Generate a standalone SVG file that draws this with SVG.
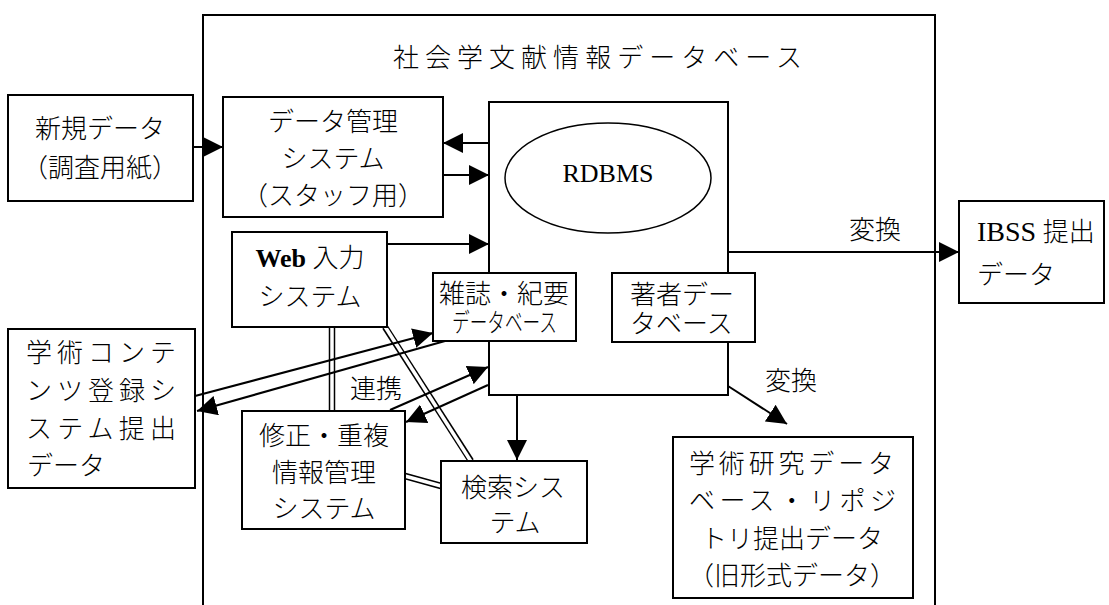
<svg xmlns="http://www.w3.org/2000/svg" width="1109" height="605" viewBox="0 0 1109 605">
<style>
text { font-family: "Liberation Serif", "Noto Sans CJK JP", serif; font-size: 26px; font-weight: 300; fill: #000; }
.c { text-anchor: middle; }
.box { fill: #fff; stroke: #000; stroke-width: 2; }
.ln { stroke: #000; stroke-width: 2; fill: none; }
.dbo { stroke: #000; stroke-width: 6.5; fill: none; }
.dbi { stroke: #fff; stroke-width: 3.5; fill: none; }
.lat { font-family: "Liberation Serif", serif; font-weight: 400; }
</style>
<defs>
<marker id="ah" markerUnits="userSpaceOnUse" markerWidth="20" markerHeight="20" refX="20" refY="10" orient="auto">
<path d="M0,0 L20,10 L0,20 Z" fill="#000"/>
</marker>
</defs>
<rect x="0" y="0" width="1109" height="605" fill="#fff"/>

<g id="database-frame">
<path d="M203,606 V15 H935 V606" class="ln"/>
<text x="393" y="67" font-size="27" textLength="409" lengthAdjust="spacing">社会学文献情報データベース</text>
</g>

<g id="connectors">
<!-- double lines -->
<line x1="332" y1="327" x2="332" y2="411" class="dbo"/>
<line x1="332" y1="325" x2="332" y2="413" class="dbi"/>
<line x1="385" y1="327" x2="471" y2="461" class="dbo"/>
<line x1="384" y1="325" x2="472" y2="463" class="dbi"/>
<line x1="405" y1="476" x2="441" y2="486" class="dbo"/>
<line x1="403" y1="475.5" x2="443" y2="486.5" class="dbi"/>
<!-- arrows -->
<line x1="193" y1="147" x2="223" y2="147" class="ln" marker-end="url(#ah)"/>
<line x1="489" y1="143" x2="443" y2="143" class="ln" marker-end="url(#ah)"/>
<line x1="443" y1="175" x2="489" y2="175" class="ln" marker-end="url(#ah)"/>
<line x1="387" y1="244" x2="489" y2="244" class="ln" marker-end="url(#ah)"/>
<line x1="195" y1="396" x2="433" y2="333" class="ln" marker-end="url(#ah)"/>
<line x1="445" y1="341" x2="197" y2="411" class="ln" marker-end="url(#ah)"/>
<line x1="390" y1="410" x2="488" y2="367" class="ln" marker-end="url(#ah)"/>
<line x1="488" y1="385" x2="406" y2="422" class="ln" marker-end="url(#ah)"/>
<line x1="517" y1="396" x2="517" y2="460" class="ln" marker-end="url(#ah)"/>
<line x1="728" y1="252" x2="959" y2="252" class="ln" marker-end="url(#ah)"/>
<line x1="728" y1="386" x2="787" y2="424" class="ln" marker-end="url(#ah)"/>
<text x="849" y="239">変換</text>
<text x="765" y="390">変換</text>
<text x="350" y="398">連携</text>
</g>

<g id="new-data">
<rect x="8" y="95" width="185" height="106" class="box"/>
<text x="100" y="138" class="c">新規データ</text>
<text x="100" y="177" class="c">（調査用紙）</text>
</g>

<g id="data-management">
<rect x="223" y="97" width="220" height="120" class="box"/>
<text x="333" y="131" class="c">データ管理</text>
<text x="333" y="168" class="c">システム</text>
<text x="333" y="205" class="c">（スタッフ用）</text>
</g>

<g id="rdbms">
<rect x="489" y="102" width="239" height="293" class="box"/>
<ellipse cx="608" cy="178" rx="103" ry="55" fill="#fff" stroke="#000" stroke-width="1.5"/>
<text x="608" y="182" class="c lat" font-size="33">RDBMS</text>
</g>

<g id="web-input">
<rect x="232" y="232" width="155" height="95" class="box"/>
<text x="310" y="267" class="c"><tspan font-family="Liberation Serif" font-weight="700">Web</tspan> 入力</text>
<text x="310" y="306" class="c">システム</text>
</g>

<g id="journal-db">
<rect x="433" y="273" width="143" height="68" class="box"/>
<text x="504" y="303" class="c" font-size="21">雑誌・紀要</text>
<text x="452" y="332" font-size="19" textLength="105" lengthAdjust="spacingAndGlyphs">データベース</text>
</g>

<g id="author-db">
<rect x="612" y="273" width="143" height="69" class="box"/>
<text x="630" y="304" font-size="23">著者デー</text>
<text x="630" y="333" font-size="23">タベース</text>
</g>

<g id="academic-contents">
<rect x="8" y="329" width="187" height="159" class="box"/>
<text x="26" y="362" textLength="150" lengthAdjust="spacing">学術コンテ</text>
<text x="26" y="400" textLength="150" lengthAdjust="spacing">ンツ登録シ</text>
<text x="26" y="438" textLength="150" lengthAdjust="spacing">ステム提出</text>
<text x="27" y="475">データ</text>
</g>

<g id="correction-system">
<rect x="242" y="411" width="163" height="118" class="box"/>
<text x="324" y="445" class="c">修正・重複</text>
<text x="324" y="482" class="c">情報管理</text>
<text x="324" y="518" class="c">システム</text>
</g>

<g id="search-system">
<rect x="441" y="461" width="146" height="82" class="box"/>
<text x="513" y="497" class="c">検索シス</text>
<text x="515" y="532" class="c">テム</text>
</g>

<g id="research-db">
<rect x="673" y="437" width="240" height="161" class="box"/>
<text x="689" y="473" textLength="205" lengthAdjust="spacing">学術研究データ</text>
<text x="689" y="510" textLength="207" lengthAdjust="spacing">ベース・リポジ</text>
<text x="792" y="548" class="c">トリ提出データ</text>
<text x="792" y="585" class="c">（旧形式データ）</text>
</g>

<g id="ibss">
<rect x="959" y="201" width="145" height="102" class="box"/>
<text x="977" y="241"><tspan class="lat" font-size="28">IBSS</tspan> 提出</text>
<text x="977" y="284">データ</text>
</g>
</svg>
